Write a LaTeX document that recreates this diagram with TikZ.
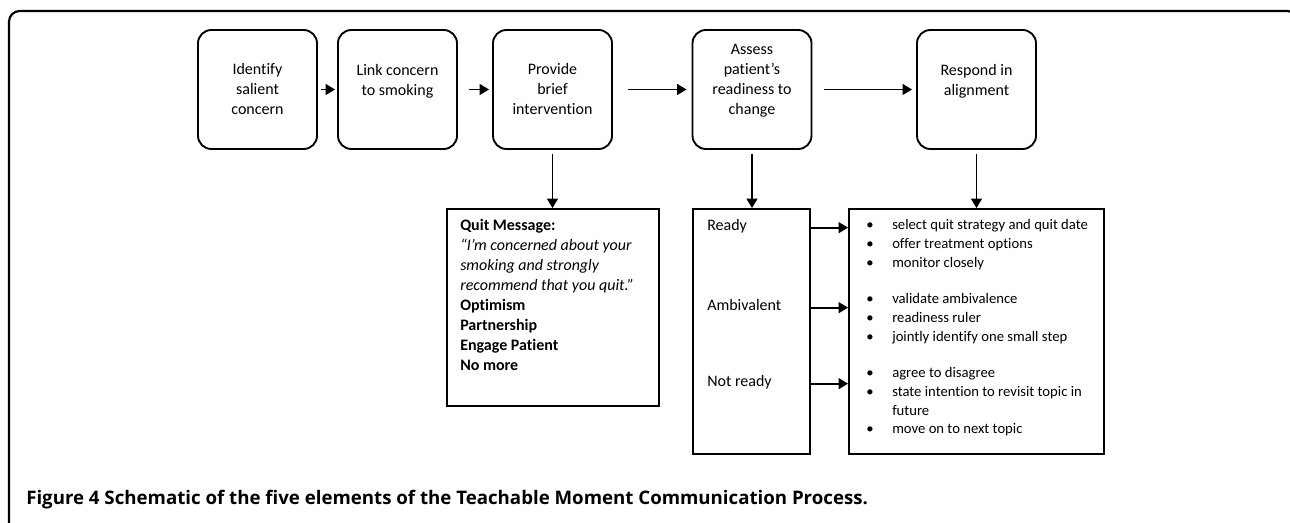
\documentclass[tikz,border=0pt]{standalone}
\usepackage{fontspec}
\setmainfont{Carlito}[Ligatures=NoCommon]
\newfontfamily\capfont{Open Sans}
\usetikzlibrary{arrows.meta}

\begin{document}
\begin{tikzpicture}[x=0.75pt,y=-0.75pt,
    >={Triangle[length=7pt,width=8pt]},
    stage/.style={draw,line width=1.4pt,rounded corners=10pt,minimum width=89.25pt,
      minimum height=89.25pt,align=center,inner sep=0pt,font=\fontsize{12}{15}\selectfont},
    panel/.style={draw,line width=1.4pt,inner sep=0pt},
    label/.style={anchor=base west,inner sep=0pt,text height=8pt,text depth=3pt,
      font=\fontsize{12}{15}\selectfont},
    items/.style={anchor=base west,inner sep=0pt,font=\fontsize{11}{14}\selectfont},
    flow/.style={->,line width=1.4pt}]
  \useasboundingbox (0,0) rectangle (1290,523);
  \draw[line width=1.6pt,rounded corners=8pt] (9,540) -- (9,11) -- (1298,11) -- (1298,60);% frame
  % the five steps
  \node[stage] (ident) at (257.5,89.5) {Identify\\salient\\concern};
  \node[stage] (link) at (397.5,89.5) {Link concern\\to smoking\\\mbox{}};
  \node[stage] (brief) at (552.5,89.5) {Provide\\brief\\intervention};
  \node[stage] (assess) at (752,89.5) {Assess\\patient’s\\readiness to\\change\\\mbox{}};
  \node[stage] (respond) at (976.5,89.5) {Respond in\\alignment\\\mbox{}};
  \draw[flow,shorten <=2.25pt,shorten >=1.5pt] (ident) -- (link);
  \draw[flow,shorten <=8pt,shorten >=2.25pt] (link) -- (brief);
  \draw[flow,shorten <=11pt,shorten >=3.75pt] (brief) -- (assess);
  \draw[flow,shorten <=9pt,shorten >=3pt] (assess) -- (respond);
  % lower boxes
  \node[panel,minimum width=159pt,minimum height=147.75pt] (quit) at (553,307.5) {};
  \node[panel,minimum width=87.75pt,minimum height=183.75pt] (ready) at (751.5,331.5) {};
  \node[panel,minimum width=191.25pt,minimum height=183.75pt] (plan) at (976.5,331.5) {};
  \draw[flow,shorten <=3pt] (brief.south) -- (brief.south |- quit.north);
  \draw[flow,shorten <=3pt] (assess.south) -- (assess.south |- ready.north);
  \draw[flow,shorten <=3pt] (respond.south) -- (respond.south |- plan.north);
  \node[items,font=\fontsize{12}{15}\selectfont] (msg) at (460,231) {\begin{tabular}[t]{@{}l@{}}
    \textbf{Quit Message:}\\
    \textit{“I’m concerned about your}\\
    \textit{smoking and strongly}\\
    \textit{recommend that you quit.”}\\
    \textbf{Optimism}\\
    \textbf{Partnership}\\
    \textbf{Engage Patient}\\
    \textbf{No more}\end{tabular}};
  \node[label] (rdy) at (707,231) {Ready};
  \node[label] (amb) at (707,311) {Ambivalent};
  \node[label] (notrdy) at (707,387) {Not ready};
  \draw[flow] (rdy -| ready.east) -- (rdy -| plan.west);
  \draw[flow] (amb -| ready.east) -- (amb -| plan.west);
  \draw[flow] (notrdy -| ready.east) -- (notrdy -| plan.west);
  \node[items] (go) at (866,230) {\begin{tabular}[t]{@{}p{19.5pt}@{}l@{}}
    •&select quit strategy and quit date\\
    •&offer treatment options\\
    •&monitor closely\end{tabular}};
  \node[items] (mixed) at (866,304) {\begin{tabular}[t]{@{}p{19.5pt}@{}l@{}}
    •&validate ambivalence\\
    •&readiness ruler\\
    •&jointly identify one small step\end{tabular}};
  \node[items] (later) at (866,378) {\begin{tabular}[t]{@{}p{19.5pt}@{}l@{}}
    •&agree to disagree\\
    •&state intention to revisit topic in\\
    &future\\
    •&move on to next topic\end{tabular}};
  \node[anchor=base west,inner sep=0pt,font=\capfont\fontsize{14}{16}\selectfont\bfseries] (caption) at (26,505)
    {Figure 4 Schematic of the five elements of the Teachable Moment Communication Process.};
\end{tikzpicture}
\end{document}
